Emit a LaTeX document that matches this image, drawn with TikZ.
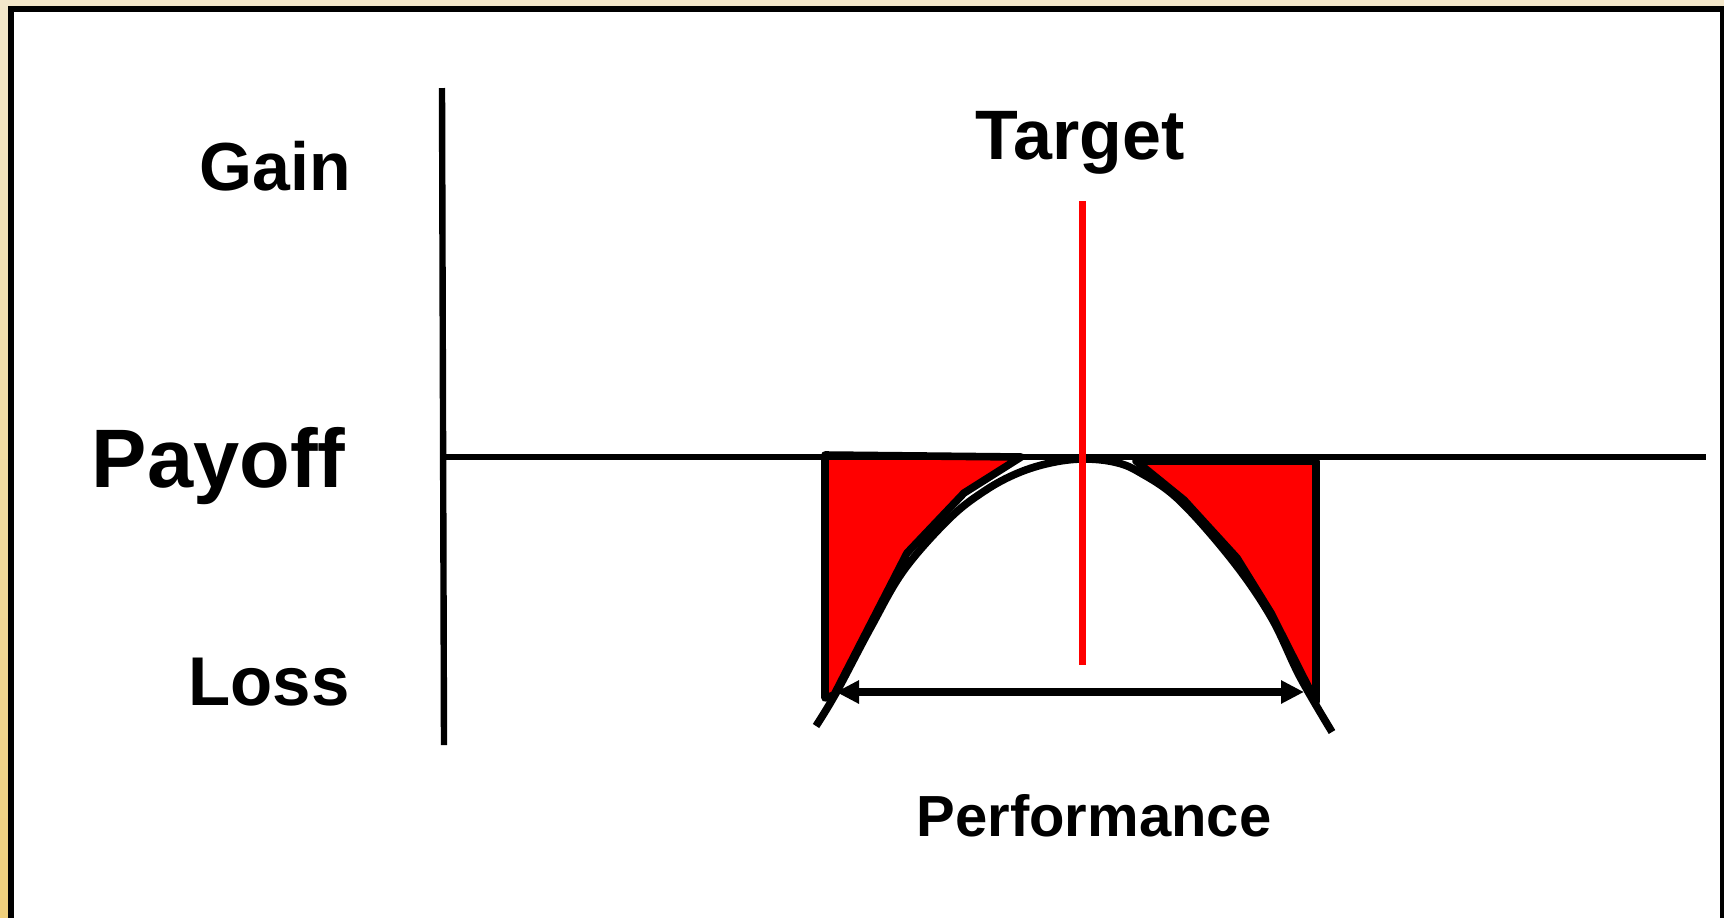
\documentclass[tikz,border=0pt]{standalone}
\usepackage{fontspec}
\setmainfont{Liberation Sans}
\usetikzlibrary{arrows.meta}
\definecolor{paperTop}{HTML}{F3E7CA}
\definecolor{paperBot}{HTML}{F0D07C}
\definecolor{lossRed}{HTML}{FF0000}
\begin{document}
\begin{tikzpicture}[x=0.5pt,y=-0.5pt,
    lbl/.style={font=\bfseries\fontsize{#1}{#1}\selectfont,inner sep=0pt},
    axisline/.style={line width=3.2pt},
    lossarea/.style={fill=lossRed,draw=black,line width=3.8pt,line join=round},
    perfarrow/.style={line width=3.6pt,{Triangle[length=11.5pt,width=11pt]}-{Triangle[length=11.5pt,width=11pt]}}]
    \useasboundingbox (0,0) rectangle (1724,917);
    \clip (0,0) rectangle (1724,917);
    \shade[top color=paperTop,bottom color=paperBot] (0,0) rectangle (1724,917);
    \draw[line width=3pt,fill=white] (11,9) rectangle (1723,935);
    % labels
    \node[lbl=34,anchor=base east] (gain) at (351,190) {Gain};
    \node[lbl=41.5,anchor=base east] (payoff) at (346,487) {Payoff};
    \node[lbl=34.5,anchor=base east] (loss) at (350,705) {Loss};
    \node[lbl=35,anchor=base] (target) at (1080,159) {Target};
    \node[lbl=29,anchor=base] (perf) at (1094,836) {Performance};
    % axes
    \coordinate (yTop) at (442,88);
    \coordinate (yBot) at (444,745);
    \coordinate (xLeft) at (445,457);
    \coordinate (xRight) at (1706,457);
    % red loss areas
    \draw[lossarea] (825,455) -- (1021,457) -- (964,493) -- (907,553) -- (834,695) -- (825,698) -- cycle;
    \draw[lossarea] (1136,461) -- (1316,461) -- (1316,702) -- (1271,613) -- (1237,558) -- (1184,500) -- cycle;
    % quality loss curve
    \draw[line width=3.8pt] plot[smooth,tension=0.6] coordinates {(816,726) (836,693) (871,627) (904,570) (950,518) (986,490) (1018,473) (1050,463) (1082,459) (1114,462) (1139,472) (1179,500) (1232,560) (1271,617) (1300,677) (1332,732)};
    \draw[axisline] (yTop) -- (yBot);
    \draw[axisline] (xLeft) -- (xRight);
    % target
    \coordinate (tTop) at (1082,201);
    \coordinate (tBot) at (1082,665);
    \draw[lossRed,line width=3.5pt] (tTop) -- (tBot);
    % performance range
    \coordinate (pL) at (836,692);
    \coordinate (pR) at (1304,692);
    \draw[perfarrow] (pL) -- (pR);
\end{tikzpicture}
\end{document}
